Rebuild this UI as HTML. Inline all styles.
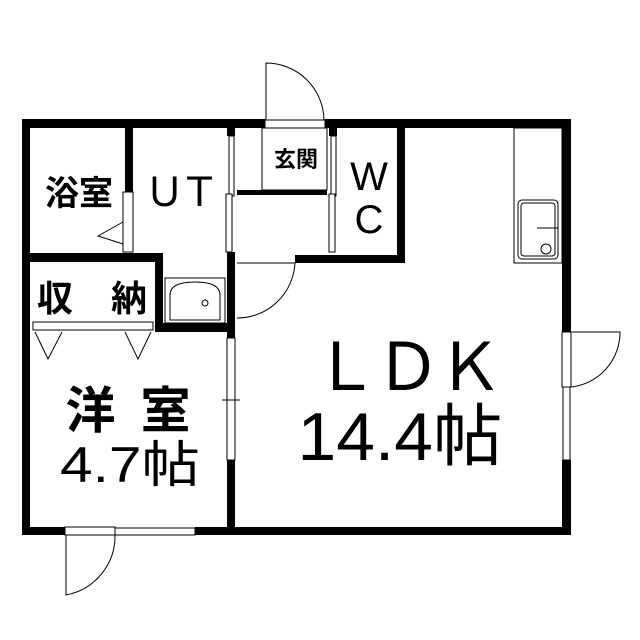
<!DOCTYPE html>
<html><head><meta charset="utf-8"><style>body{margin:0;background:#fff}svg{display:block}</style></head><body>
<svg width="640" height="640" viewBox="0 0 640 640" xmlns="http://www.w3.org/2000/svg">
<rect width="640" height="640" fill="#fff"/>
<g fill="#000">
<rect x="22" y="119" width="243" height="9"/>
<rect x="325" y="119" width="246" height="9"/>
<rect x="22" y="119" width="8" height="416"/>
<rect x="562" y="119" width="9" height="213"/>
<rect x="562" y="460" width="9" height="75"/>
<rect x="22" y="527" width="43" height="8"/>
<rect x="195" y="527" width="376" height="8"/>
<rect x="125" y="128" width="8" height="64"/>
<rect x="22" y="253" width="141" height="9"/>
<rect x="155" y="253" width="8" height="77"/>
<rect x="155" y="323" width="80" height="9"/>
<rect x="227" y="128" width="8" height="8"/>
<rect x="227" y="252" width="8" height="86"/>
<rect x="227" y="460" width="8" height="75"/>
<rect x="329" y="128" width="8" height="8"/>
<rect x="397" y="128" width="8" height="135"/>
<rect x="295" y="255" width="110" height="8"/>
</g>
<g fill="#fff" stroke="#000" stroke-width="1">
<rect x="265" y="120" width="60" height="8"/>
<path d="M266 120 V63 A58 58 0 0 1 324 120" fill="none"/>
<rect x="262" y="128" width="65" height="62" fill="none"/>
<rect x="237" y="190" width="90" height="5" fill="#000" stroke="none"/>
<rect x="229" y="136" width="5" height="60"/>
<rect x="226" y="194" width="6" height="58"/>
<rect x="331" y="136" width="5" height="60"/>
<rect x="329" y="194" width="6" height="58"/>
<rect x="123" y="192" width="10" height="60"/>
<path d="M123 222 L98 236 L123 244" fill="none"/>
<path d="M237 263 H295 A58 58 0 0 1 237 318" fill="none"/>
<rect x="165" y="278" width="60" height="45"/>
<path d="M170 320 V295 Q170 282 195 282 Q220 282 220 295 V320 Z" fill="none"/>
<circle cx="205" cy="303" r="3" fill="none"/>
<rect x="33" y="322" width="120" height="8"/>
<path d="M35 332 L48 359 L62 332" fill="none"/>
<path d="M125 332 L138 359 L151 332" fill="none"/>
<rect x="227" y="338" width="8" height="122"/>
<line x1="222" y1="400" x2="240" y2="400"/>
<rect x="65" y="527" width="50" height="8"/>
<rect x="115" y="528" width="80" height="7"/>
<path d="M66 535 V595 A60 60 0 0 0 115 535" fill="none"/>
<rect x="562" y="332" width="9" height="55"/>
<path d="M571 332 H620 A55 55 0 0 1 571 387" fill="none"/>
<rect x="563" y="387" width="7" height="73"/>
<rect x="514" y="128" width="48" height="135"/>
<rect x="518" y="200" width="40" height="59" rx="4"/>
<rect x="521" y="203" width="34" height="53" rx="3"/>
<line x1="537" y1="228" x2="558" y2="228"/>
<circle cx="546" cy="249" r="5"/>
</g>
<g font-family="'Liberation Sans','Noto Sans CJK JP',sans-serif" fill="#000" text-anchor="middle" font-weight="bold">
<text x="79" y="205" font-size="34">浴室</text>
<text x="182" y="206" font-size="40" font-weight="normal" textLength="75" lengthAdjust="spacing">ＵＴ</text>
<text x="296" y="167" font-size="22">玄関</text>
<text x="369" y="190" font-size="40" font-weight="normal">W</text>
<text x="369" y="233" font-size="40" font-weight="normal">C</text>
<text x="92" y="311" font-size="36" textLength="110" lengthAdjust="spacing">収納</text>
<text x="128" y="428" font-size="50" textLength="125" lengthAdjust="spacing">洋室</text>
<text x="130" y="482" font-size="50" font-weight="normal" textLength="140" lengthAdjust="spacingAndGlyphs">4.7帖</text>
<text x="408" y="390" font-size="66" font-weight="normal" textLength="190" lengthAdjust="spacing">ＬＤＫ</text>
<text x="400" y="460" font-size="68" font-weight="normal" textLength="205" lengthAdjust="spacingAndGlyphs">14.4帖</text>
</g>
</svg>
</body></html>
